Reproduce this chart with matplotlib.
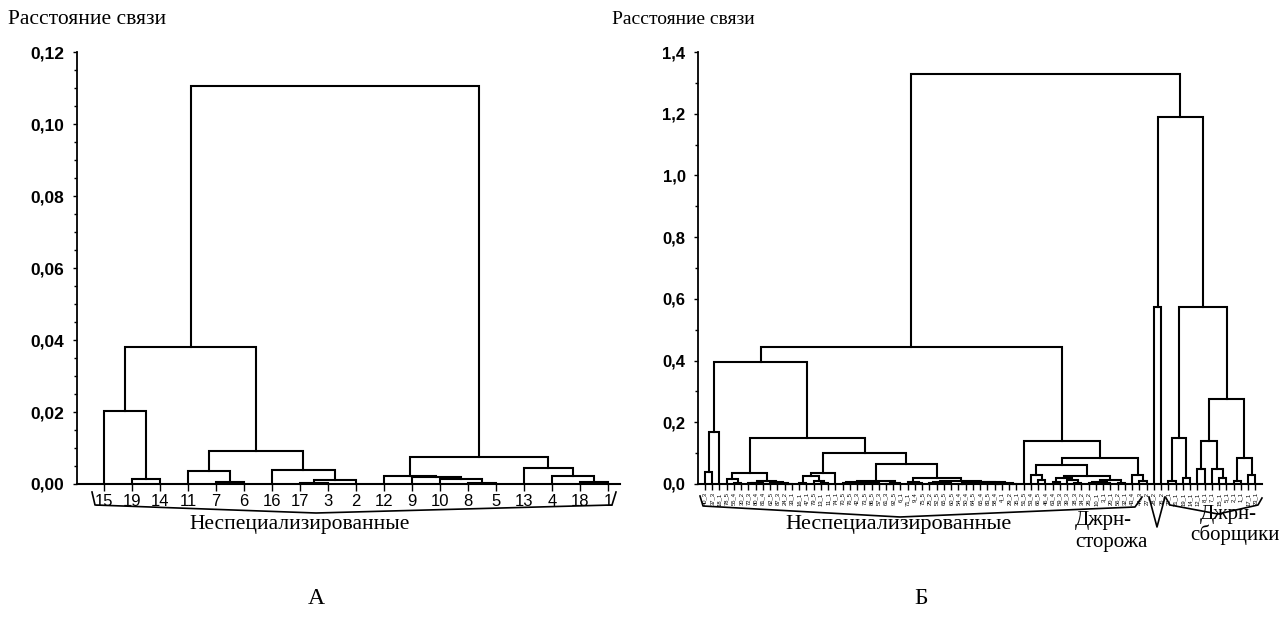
import matplotlib
matplotlib.use("Agg")
import matplotlib.pyplot as plt
from matplotlib.ticker import MultipleLocator, FuncFormatter

# ---- data ----
# panel A: leaf order along the x axis and the merge tree [height, left, right]
labels_a = ["15", "19", "14", "11", "7", "6", "16", "17", "3", "2",
            "12", "9", "10", "8", "5", "13", "4", "18", "1"]
tree_a = [0.1105,
          [0.038,
           [0.0202, 0, [0.0013, 1, 2]],
           [0.0092,
            [0.0036, 3, [0.0005, 4, 5]],
            [0.0040, 6, [0.0012, [0.0004, 7, 8], 9]]]],
          [0.0076,
           [0.0022, 10, [0.0019, 11, [0.0015, 12, [0.0002, 13, 14]]]],
           [0.0045, 15, [0.0022, 16, [0.0005, 17, 18]]]]]

# panel B
labels_b = ["40_3", "37_3", "18_1", "78_5", "55_4", "30_2", "72_3", "80_4", "81_4", "62_5",
            "87_3", "24_2", "33_1", "16_1", "47_1", "79_5", "13_1", "11_1", "74_1", "70_5",
            "76_5", "42_3", "73_5", "86_5", "57_3", "61_3", "92_5", "6_1", "71_1", "9_4",
            "75_5", "25_2", "52_5", "65_5", "60_5", "54_4", "50_4", "64_5", "65_4", "83_5",
            "58_4", "4_1", "29_2", "35_1", "51_5", "53_4", "66_5", "46_4", "63_4", "59_3",
            "39_3", "38_3", "34_2", "26_2", "10_1", "3_1", "20_1", "56_2", "32_1", "43_4",
            "44_3", "27_2", "28_2", "36_2", "22_1", "21_1", "19_1", "14_1", "12_1", "8_1",
            "7_1", "15_1", "5_1", "2_1", "1_1", "17_1", "23_1"]

b_a1 = [0.395,
        [0.17, [0.04, 0, 1], 2],
        [0.15,
         [0.035,
          [0.015, 3, [0.004, 4, 5]],
          [0.011, [0.004, [0.002, 6, 7], 8], [0.007, 9, [0.002, 10, [0.001, 11, 12]]]]],
         [0.10,
          [0.035, [0.027, [0.004, 13, 14], [0.01, 15, [0.003, 16, 17]]], 18],
          [0.065,
           [0.011,
            [0.006, [0.002, 19, 20], [0.004, [0.001, 21, 22], [0.002, 23, 24]]],
            [0.004, [0.001, 25, 26], 27]],
           [0.021,
            [0.005, 28, [0.002, 29, 30]],
            [0.011,
             [0.006, [0.002, 31, 32], [0.003, 33, 34]],
             [0.008, [0.003, [0.001, 35, 36], 37],
              [0.006, [0.002, 38, 39], [0.004, [0.001, 40, 41], [0.0005, 42, 43]]]]]]]]]]
b_a2 = [0.14, 44,
        [0.083,
         [0.063,
          [0.029, 45, [0.013, 46, 47]],
          [0.025,
           [0.02, [0.008, 48, 49], [0.014, 50, [0.003, 51, 52]]],
           [0.012, [0.006, [0.002, 53, 54], [0.003, 55, 56]], [0.004, 57, 58]]]],
         [0.029, 59, [0.011, 60, 61]]]]
b_b = [1.19,
       [0.573, 62, 63],
       [0.575,
        [0.15, [0.01, 64, 65], [0.02, 66, 67]],
        [0.275,
         [0.14, [0.05, 68, 69], [0.05, 70, [0.02, 71, 72]]],
         [0.085, [0.01, 73, 74], [0.03, 75, 76]]]]]
tree_b = [1.33, [0.445, b_a1, b_a2], b_b]

W, H = 1284, 628
serif = "Liberation Serif"
sans = "Liberation Sans"


def draw(ax, node):
    if isinstance(node, int):
        return node, 0.0
    h, left, right = node
    xl, hl = draw(ax, left)
    xr, hr = draw(ax, right)
    ax.plot([xl, xl, xr, xr], [hl, h, h, hr], color="black", lw=1.5,
            solid_joinstyle="miter", clip_on=False)
    return (xl + xr) / 2, h


def comma(v, pos, nd):
    return f"{v:.{nd}f}".replace(".", ",")


def style(ax, ymax, major, minor, nd, size):
    for s in ["top", "right"]:
        ax.spines[s].set_visible(False)
    ax.spines["left"].set_linewidth(1.3)
    ax.spines["bottom"].set_linewidth(1.5)
    ax.set_ylim(0, ymax)
    ax.yaxis.set_major_locator(MultipleLocator(major))
    ax.yaxis.set_minor_locator(MultipleLocator(minor))
    ax.yaxis.set_major_formatter(FuncFormatter(lambda v, p: comma(v, p, nd)))
    ax.tick_params(axis="y", which="major", length=3, width=1, pad=6, labelsize=size)
    ax.tick_params(axis="y", which="minor", length=2, width=1)
    for t in ax.get_yticklabels():
        t.set_fontfamily(sans)
        t.set_fontweight("bold")


def px(x, y):
    return x / W, 1 - y / H


def brace(xs, ys):
    fig.add_artist(plt.Line2D([x / W for x in xs], [1 - y / H for y in ys],
                              color="black", lw=1.2))


fig = plt.figure(figsize=(W / 100, H / 100), dpi=100)

# ---- panel A ----
ax1 = fig.add_axes([77 / W, 1 - 484 / H, (620 - 77) / W, (484 - 52) / H])
draw(ax1, tree_a)
ax1.set_xlim(-0.964, 18.43)
style(ax1, 0.12, 0.02, 0.005, 2, 12.5)
ax1.set_xticks(range(len(labels_a)))
ax1.set_xticklabels(labels_a, fontfamily=sans, fontsize=12)
ax1.tick_params(axis="x", length=5, width=1, pad=2)

# ---- panel B ----
ax2 = fig.add_axes([698 / W, 1 - 484 / H, (1262 - 698) / W, (484 - 52) / H])
draw(ax2, tree_b)
ax2.set_xlim(-0.967, 76.93)
style(ax2, 1.4, 0.2, 0.1, 1, 12)
ax2.set_xticks(range(len(labels_b)))
ax2.set_xticklabels(labels_b, fontfamily=sans, fontsize=4.2, rotation=90)
ax2.tick_params(axis="x", length=4, width=1, pad=2)

# axis titles
fig.text(*px(8, 20), "Расстояние связи", family=serif, fontsize=15.5, va="center", ha="left")
fig.text(*px(612, 20), "Расстояние связи", family=serif, fontsize=14, va="center", ha="left")

# braces under the leaves
brace([92, 95, 316, 612, 616], [492, 505, 513, 505, 492])
brace([700, 703, 900, 1135, 1142], [496, 506, 517, 507, 497])
brace([1149, 1157, 1165], [497, 527, 497])
brace([1166, 1170, 1218, 1258, 1262], [498, 505, 514, 505, 498])

# group names and panel letters
fig.text(*px(300, 524), "Неспециализированные", family=serif, fontsize=15.5, ha="center", va="center")
fig.text(*px(898, 524), "Неспециализированные", family=serif, fontsize=16, ha="center", va="center")
fig.text(*px(1075, 521), "Джрн-", family=serif, fontsize=15, ha="left", va="center")
fig.text(*px(1075, 542), "сторожа", family=serif, fontsize=15, ha="left", va="center")
fig.text(*px(1200, 515), "Джрн-", family=serif, fontsize=15, ha="left", va="center")
fig.text(*px(1190, 535), "сборщики", family=serif, fontsize=15, ha="left", va="center")
fig.text(*px(316, 598), "А", family=serif, fontsize=17, ha="center", va="center")
fig.text(*px(921, 598), "Б", family=serif, fontsize=17, ha="center", va="center")

fig.savefig("out.png", dpi=100)
